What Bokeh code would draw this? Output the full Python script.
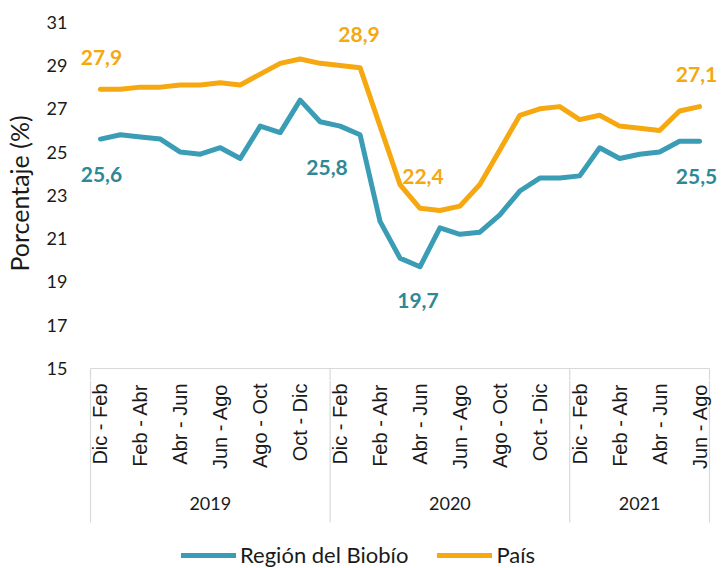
import numpy as np
from bokeh.plotting import figure
from bokeh.models import ColumnDataSource, Range1d, FixedTicker, Legend, LegendItem
from bokeh.layouts import column
from bokeh.core.properties import value
from bokeh.embed import file_html
from bokeh.resources import INLINE

# ---------------- data ----------------
years = ["2019", "2020", "2021"]
quarters_per_year = [12, 12, 7]
quarter_names = ["Dic - Feb", "Ene - Mar", "Feb - Abr", "Mar - May", "Abr - Jun", "May - Jul",
                 "Jun - Ago", "Jul - Sep", "Ago - Oct", "Sep - Nov", "Oct - Dic", "Nov - Ene"]
biobio = [25.6, 25.8, 25.7, 25.6, 25.0, 24.9, 25.2, 24.7, 26.2, 25.9, 27.4, 26.4,
          26.2, 25.8, 21.8, 20.1, 19.7, 21.5, 21.2, 21.3, 22.1, 23.2, 23.8, 23.8,
          23.9, 25.2, 24.7, 24.9, 25.0, 25.5, 25.5]
pais = [27.9, 27.9, 28.0, 28.0, 28.1, 28.1, 28.2, 28.1, 28.6, 29.1, 29.3, 29.1,
        29.0, 28.9, 26.2, 23.5, 22.4, 22.3, 22.5, 23.5, 25.1, 26.7, 27.0, 27.1,
        26.5, 26.7, 26.2, 26.1, 26.0, 26.9, 27.1]
highlight_idx = [0, 13, 16, 30]
y_ticks = [15, 17, 19, 21, 23, 25, 27, 29, 31]
series_names = ["Región del Biobío", "País"]

# ---------------- styles ----------------
BLUE = "#3A9DB5"
BLUE_TXT = "#2E8898"
ORANGE = "#F5A80F"
GRAY = "#D9D9D9"
TXT = "#1a1a1a"
W = 723
LEFT = 78                              # frame starts at x = LEFT
PXU = 619 / 31.0                       # px per category
X_START = -0.5 - (90 - LEFT) / PXU
X_END = X_START + (W - LEFT) / PXU
TOP_H = 380
TOP_BORDER = 6
PXY = 346.3 / 16.0                     # px per percentage point
Y_END = 31 + (21.7 - TOP_BORDER) / PXY
Y_START = 15 - (TOP_H - 368) / PXY
BOT_H = 188

categories = [q for n in quarters_per_year for q in quarter_names[:n]]
xs = list(range(len(categories)))
bounds = list(np.cumsum([0] + quarters_per_year) - 0.5)

xr = Range1d(X_START, X_END)

# ---------------- main chart ----------------
p = figure(width=W, height=TOP_H, x_range=xr, y_range=Range1d(Y_START, Y_END),
           output_backend="svg", toolbar_location=None, x_axis_location=None,
           min_border_left=LEFT, min_border_right=0, min_border_top=TOP_BORDER,
           min_border_bottom=0)
p.outline_line_color = None
p.grid.visible = False

p.yaxis.ticker = FixedTicker(ticks=y_ticks)
p.yaxis.axis_line_color = None
p.yaxis.major_tick_line_color = None
p.yaxis.minor_tick_line_color = None
p.yaxis.major_tick_out = 0
p.yaxis.major_tick_in = 0
p.yaxis.major_label_standoff = LEFT - 67
p.yaxis.major_label_text_font = "Lato"
p.yaxis.major_label_text_font_size = "18px"
p.yaxis.major_label_text_color = TXT
p.yaxis.axis_label = "Porcentaje (%)"
p.yaxis.axis_label_text_font = "Lato"
p.yaxis.axis_label_text_font_size = "25px"
p.yaxis.axis_label_text_font_style = "normal"
p.yaxis.axis_label_text_color = TXT
p.yaxis.axis_label_standoff = 10

# category box (top line + upper part of separators)
p.segment(x0=[bounds[0]], y0=[y_ticks[0]], x1=[bounds[-1]], y1=[y_ticks[0]],
          line_color=GRAY, line_width=1.2)
p.segment(x0=bounds, y0=[y_ticks[0]] * len(bounds), x1=bounds, y1=[Y_START] * len(bounds),
          line_color=GRAY, line_width=1.2)

p.line(xs, biobio, line_color=BLUE, line_width=5, line_join="round", line_cap="round")
p.line(xs, pais, line_color=ORANGE, line_width=5, line_join="round", line_cap="round")

fmt = lambda v: f"{v:.1f}".replace(".", ",")
# screen offsets (px) of the value labels (x right, y down)
orange_off = [(1, -32), (-1, -33), (3, -32), (-3, -32)]
blue_off = [(1, 35), (-33, 33), (-2, 34), (-3, 35)]
for vals, col, offs in [(pais, ORANGE, orange_off), (biobio, BLUE_TXT, blue_off)]:
    src = ColumnDataSource(dict(
        x=[xs[i] for i in highlight_idx],
        y=[vals[i] for i in highlight_idx],
        t=[fmt(vals[i]) for i in highlight_idx],
        dx=[o[0] for o in offs],
        dy=[o[1] for o in offs],
    ))
    p.text(x="x", y="y", text="t", x_offset="dx", y_offset="dy", source=src,
           text_color=col, text_font=value("Lato"), text_font_style="bold",
           text_font_size="21px", text_align="center", text_baseline="middle")

# ---------------- category axis + legend ----------------
b = figure(width=W, height=BOT_H, x_range=xr, y_range=Range1d(-BOT_H, 0),
           output_backend="svg", toolbar_location=None,
           x_axis_location=None, y_axis_location=None,
           min_border_left=LEFT, min_border_right=0, min_border_top=0, min_border_bottom=0)
b.outline_line_color = None
b.grid.visible = False

b.segment(x0=bounds, y0=[0] * len(bounds), x1=bounds, y1=[-142] * len(bounds),
          line_color=GRAY, line_width=1.2)

shown = [i for i in xs if i % 2 == 0]
b.text(x=shown, y=[-3] * len(shown), text=[categories[i] for i in shown], angle=np.pi / 2,
       text_align="right", text_baseline="middle", text_font=value("Liberation Sans"),
       text_font_size="20px", text_color=TXT)

centers = [(bounds[k] + bounds[k + 1]) / 2 for k in range(len(years))]
b.text(x=centers, y=[-123] * len(years), text=years, text_align="center",
       text_baseline="middle", text_font=value("Lato"), text_font_size="18px",
       text_color=TXT)

r1 = b.line(x=[np.nan], y=[np.nan], line_color=BLUE, line_width=5, line_cap="round")
r2 = b.line(x=[np.nan], y=[np.nan], line_color=ORANGE, line_width=5, line_cap="round")
legend = Legend(items=[LegendItem(label=series_names[0], renderers=[r1]),
                       LegendItem(label=series_names[1], renderers=[r2])],
                location=(181 - LEFT, 0), orientation="horizontal",
                glyph_width=55, glyph_height=16,
                label_standoff=4, spacing=29, padding=0, margin=0,
                border_line_color=None, background_fill_alpha=0,
                label_text_font="Lato", label_text_font_size="22px", label_height=16,
                label_text_color=TXT)
b.add_layout(legend)

layout = column(p, b)
open("out.html", "w").write(file_html(layout, INLINE))
